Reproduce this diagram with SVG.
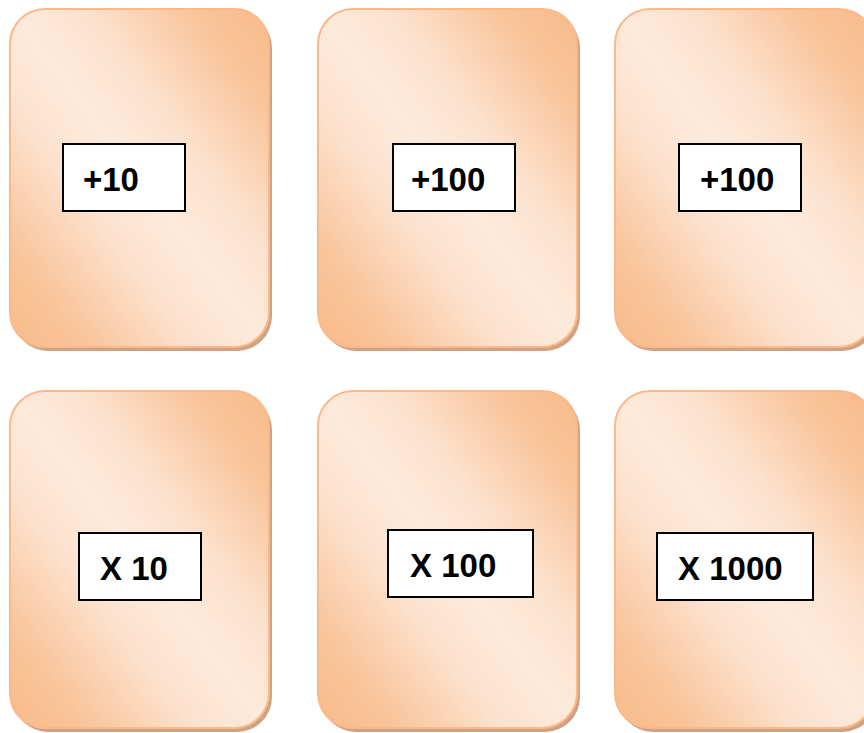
<svg xmlns="http://www.w3.org/2000/svg" width="864" height="733" viewBox="0 0 864 733">
  <defs>
    <!-- diagonal reflected peach gradient across each card -->
    <linearGradient id="peach" x1="1" y1="0" x2="0" y2="1">
      <stop offset="0" stop-color="#F8BB8A"/>
      <stop offset="0.15" stop-color="#F9C49A"/>
      <stop offset="0.36" stop-color="#FCE2CE"/>
      <stop offset="0.5" stop-color="#FDEADB"/>
      <stop offset="0.64" stop-color="#FCE2CE"/>
      <stop offset="0.85" stop-color="#F9C49A"/>
      <stop offset="1" stop-color="#F8BB8A"/>
    </linearGradient>
  </defs>
  <style>
    .shadow { fill: #CFA283; }
    .card { fill: url(#peach); stroke: #FBB889; stroke-width: 2; }
    .label { fill: #FFFFFF; stroke: #000000; stroke-width: 2; }
    .txt { font-family: "Liberation Sans", Arial, sans-serif; font-weight: bold; font-size: 33px; fill: #000000; }
  </style>
  <rect width="864" height="733" fill="#FFFFFF"/>

  <g id="card-plus-10">
    <rect class="shadow" x="13" y="13" width="259" height="338" rx="35"/>
    <rect class="card" x="10" y="9" width="259" height="338" rx="35"/>
    <rect class="label" x="63" y="144" width="122" height="67"/>
    <text class="txt" x="83" y="191">+10</text>
  </g>

  <g id="card-plus-100-a">
    <rect class="shadow" x="321" y="13" width="259" height="338" rx="35"/>
    <rect class="card" x="318" y="9" width="259" height="338" rx="35"/>
    <rect class="label" x="393" y="144" width="122" height="67"/>
    <text class="txt" x="411" y="191">+100</text>
  </g>

  <g id="card-plus-100-b">
    <rect class="shadow" x="618" y="13" width="259" height="338" rx="35"/>
    <rect class="card" x="615" y="9" width="259" height="338" rx="35"/>
    <rect class="label" x="679" y="144" width="122" height="67"/>
    <text class="txt" x="700" y="191">+100</text>
  </g>

  <g id="card-times-10">
    <rect class="shadow" x="13" y="395" width="259" height="337" rx="35"/>
    <rect class="card" x="10" y="391" width="259" height="337" rx="35"/>
    <rect class="label" x="79" y="533" width="122" height="67"/>
    <text class="txt" x="100" y="580">X 10</text>
  </g>

  <g id="card-times-100">
    <rect class="shadow" x="321" y="395" width="259" height="337" rx="35"/>
    <rect class="card" x="318" y="391" width="259" height="337" rx="35"/>
    <rect class="label" x="388" y="530" width="145" height="67"/>
    <text class="txt" x="410" y="577">X 100</text>
  </g>

  <g id="card-times-1000">
    <rect class="shadow" x="618" y="395" width="259" height="337" rx="35"/>
    <rect class="card" x="615" y="391" width="259" height="337" rx="35"/>
    <rect class="label" x="657" y="533" width="156" height="67"/>
    <text class="txt" x="678" y="580">X 1000</text>
  </g>

  <g id="connectors"/>
</svg>
